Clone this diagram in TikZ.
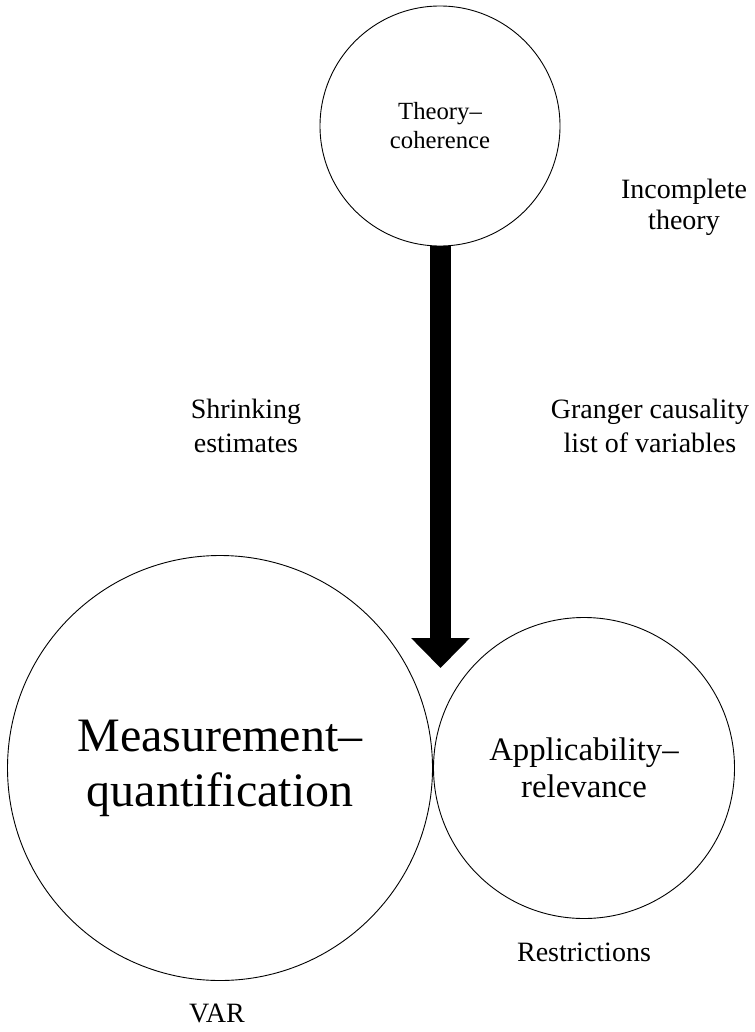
\documentclass[tikz,border=0pt]{standalone}
\usepackage{fontspec}
\setmainfont{Liberation Serif}
\usetikzlibrary{arrows.meta}
\tikzset{
  ring/.style={draw=black, line width=0.9pt, circle, inner sep=0pt, align=center},
  lbl/.style={align=center, inner sep=0pt, font=\fontsize{28}{34}\selectfont},
  bigarrow/.style={line width=21pt, -{Triangle[length=30pt,width=57pt]}}
}
\begin{document}
\begin{tikzpicture}[x=1pt,y=-1pt]
\useasboundingbox (0,0) rectangle (754,1032);
% circles
\node[ring, minimum size=240pt, font=\fontsize{24.7}{29}\selectfont] (theory) at (440,126) {Theory--\\coherence};
\node[ring, minimum size=425pt, font=\fontsize{48}{55}\selectfont] (meas) at (220,768) {Measurement--\\quantification};
\node[ring, minimum size=301pt, font=\fontsize{32.8}{37}\selectfont] (appl) at (584,768) {Applicability--\\relevance};
% labels
\node[lbl, font=\fontsize{28}{31}\selectfont] (incomplete) at (684,207) {Incomplete\\theory};
\node[lbl] (shrink) at (246,426) {Shrinking\\estimates};
\node[lbl] (granger) at (650,426) {Granger causality\\list of variables};
\node[lbl] (restr) at (584,952) {Restrictions};
\node[lbl] (var) at (217,1013) {VAR};
% arrow
\coordinate (tip) at (440.5,668);
\draw[bigarrow] ([xshift=0.5pt]theory.south) -- (tip);
\end{tikzpicture}
\end{document}
